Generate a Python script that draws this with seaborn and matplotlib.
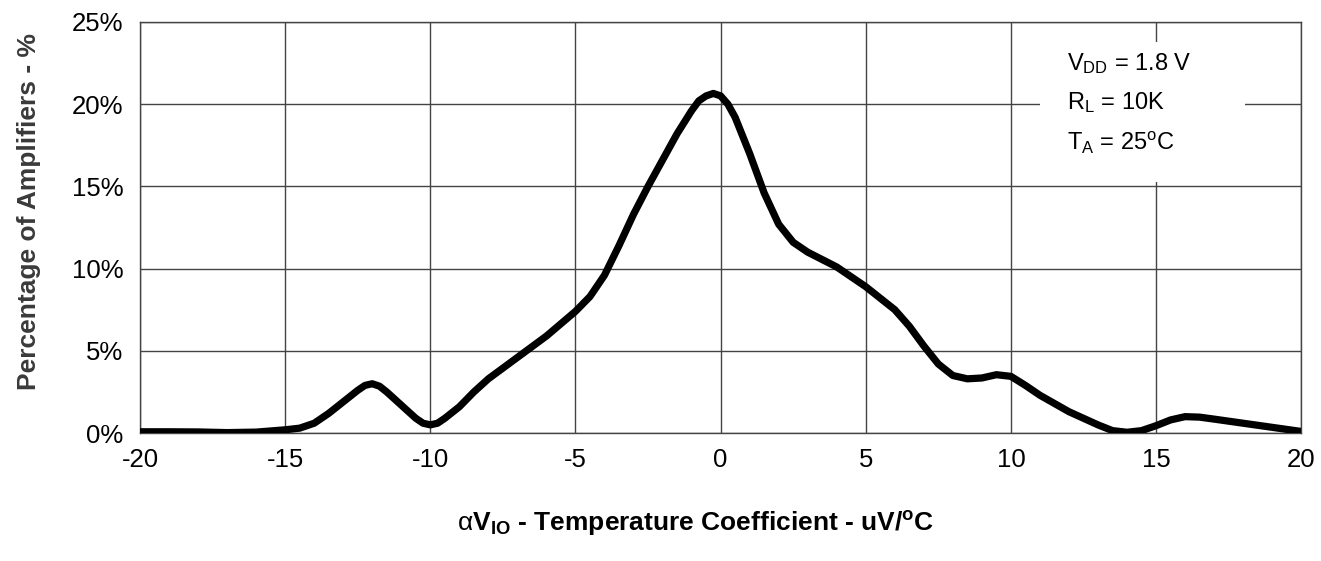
import matplotlib
matplotlib.use("Agg")
import matplotlib.pyplot as plt
import pandas as pd
import seaborn as sns
from matplotlib.patches import Rectangle
from matplotlib.ticker import FuncFormatter, MultipleLocator

# temperature coefficient (uV/C) vs percentage of amplifiers
tempco = [-20, -19, -18, -17, -16, -15, -14.5, -14, -13.5, -13, -12.5, -12.25,
          -12, -11.75, -11.5, -11, -10.5, -10.25, -10, -9.75, -9.5, -9, -8.5,
          -8, -7, -6, -5, -4.5, -4, -3.5, -3, -2.5, -2, -1.5, -1, -0.75, -0.5,
          -0.25, 0, 0.25, 0.5, 1, 1.5, 2, 2.5, 3, 4, 5, 6, 6.5, 7, 7.5, 8,
          8.5, 9, 9.5, 10, 10.5, 11, 12, 13, 13.5, 14, 14.5, 15, 15.5, 16,
          16.5, 17, 18, 19, 20]
percent = [0.08, 0.08, 0.07, 0.03, 0.06, 0.2, 0.3, 0.6, 1.2, 1.9, 2.6, 2.9,
           3.0, 2.85, 2.5, 1.7, 0.9, 0.6, 0.5, 0.6, 0.9, 1.6, 2.5,
           3.3, 4.6, 5.9, 7.4, 8.3, 9.6, 11.4, 13.3, 15.0, 16.6, 18.2, 19.6,
           20.2, 20.5, 20.65, 20.5, 20.0, 19.2, 17.0,
           14.6, 12.7, 11.6, 11.0, 10.1, 8.9, 7.5, 6.5, 5.3, 4.2, 3.5, 3.3,
           3.35, 3.55, 3.45, 2.9, 2.3, 1.3, 0.5, 0.15, 0.05, 0.15, 0.45, 0.8,
           1.0, 0.97, 0.85, 0.6, 0.35, 0.1]

conditions = [r"V$_{\mathrm{DD}}$ = 1.8 V",
              r"R$_{\mathrm{L}}$ = 10K",
              r"T$_{\mathrm{A}}$ = 25$^{\mathrm{o}}$C"]

df = pd.DataFrame({"tempco": tempco, "percent": percent})

sns.set_style("white")
plt.rcParams["font.family"] = ["Liberation Sans", "DejaVu Sans"]
plt.rcParams["axes.unicode_minus"] = False
plt.rcParams["mathtext.fontset"] = "custom"
plt.rcParams["mathtext.rm"] = "Liberation Sans"
plt.rcParams["mathtext.it"] = "Liberation Sans"
plt.rcParams["mathtext.bf"] = "Liberation Sans:bold"

fig = plt.figure(figsize=(13.21, 5.61), dpi=100)
ax = fig.add_axes([0.106, 0.228, 0.879, 0.733])

sns.lineplot(data=df, x="tempco", y="percent", ax=ax, color="black",
             linewidth=5.2, zorder=5, solid_capstyle="round",
             solid_joinstyle="round")

ax.set_xlim(-20, 20)
ax.set_ylim(0, 25)
ax.xaxis.set_major_locator(MultipleLocator(5))
ax.yaxis.set_major_locator(MultipleLocator(5))
ax.yaxis.set_major_formatter(FuncFormatter(lambda v, _: f"{v:.0f}%"))
ax.grid(True, color="#444444", linewidth=1.0)
ax.set_axisbelow(True)
for side in ["left", "bottom", "top", "right"]:
    ax.spines[side].set_color("#444444")
    ax.spines[side].set_linewidth(1.0)
ax.tick_params(axis="both", which="major", labelsize=18.5, colors="#444444",
               labelcolor="black", length=8, width=1.0, direction="out")
ax.tick_params(axis="x", pad=3)
ax.tick_params(axis="y", pad=4)

ax.set_ylabel("Percentage of Amplifiers - %", fontsize=19, fontweight="bold",
              color="#3a3a3a")
ax.yaxis.set_label_coords(-0.085, 0.54)
ax.set_xlabel(r"$\alpha$V$_{\mathbf{IO}}$ - Temperature Coefficient - uV/$^{\mathbf{o}}$C",
              fontsize=19, fontweight="bold", color="black")
ax.xaxis.set_label_coords(0.478, -0.185)

# white patch behind the test conditions hides the grid there
ax.add_patch(Rectangle((0.775, 0.611), 0.177, 0.34, transform=ax.transAxes,
                       facecolor="white", edgecolor="none", zorder=4))
ax.text(0.798, 0.93, "\n".join(conditions), transform=ax.transAxes,
        fontsize=17, va="top", ha="left", linespacing=1.75, zorder=6,
        color="black")

fig.savefig("out.png", dpi=100)
